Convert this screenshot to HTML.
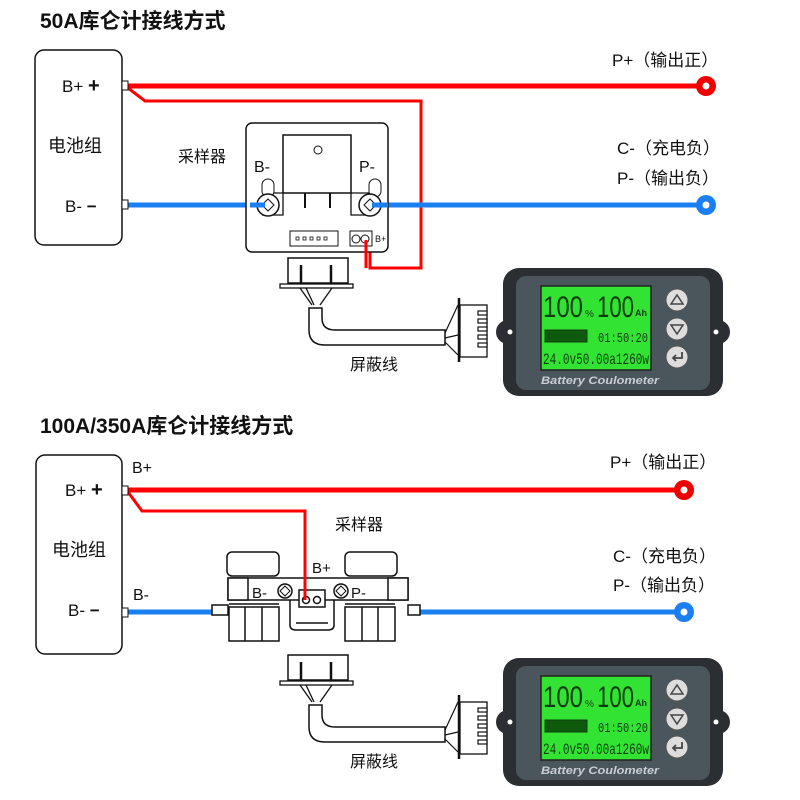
<!DOCTYPE html>
<html><head><meta charset="utf-8"><style>
html,body{margin:0;padding:0;background:#fff;}
svg{display:block;font-family:"Liberation Sans","Noto Sans CJK SC",sans-serif;}
</style></head><body>
<svg width="800" height="800" viewBox="0 0 800 800" xmlns="http://www.w3.org/2000/svg">
<defs>
<g id="meter">
  <rect x="503" y="268" width="220" height="128" rx="16" fill="#2b2f33"/>
  <circle cx="508" cy="332" r="12" fill="#2b2f33"/><circle cx="718" cy="332" r="12" fill="#2b2f33"/>
  <circle cx="510" cy="332" r="2.5" fill="#fff"/><circle cx="716" cy="332" r="2.5" fill="#fff"/>
  <rect x="516" y="276" width="194" height="114" rx="10" fill="#4b555c"/>
  <rect x="541" y="286" width="110" height="84" fill="#33e333" stroke="#222" stroke-width="1.5"/>
  <text x="543" y="317" font-size="30" fill="#0d3d0d" textLength="40" lengthAdjust="spacingAndGlyphs">100</text>
  <text x="585" y="317" font-size="10" fill="#0d3d0d">%</text>
  <text x="597" y="317" font-size="30" fill="#0d3d0d" textLength="37" lengthAdjust="spacingAndGlyphs">100</text>
  <text x="635" y="316" font-size="9" fill="#0d3d0d" font-weight="bold">Ah</text>
  <rect x="545" y="330" width="42" height="12" fill="#0d5a0d" stroke="#0d3d0d"/>
  <text x="598" y="342" font-size="14" fill="#0d3d0d" font-family="Liberation Mono,monospace" textLength="50" lengthAdjust="spacingAndGlyphs">01:50:20</text>
  <text x="543" y="364" font-size="16" fill="#0d3d0d" font-family="Liberation Mono,monospace" textLength="106" lengthAdjust="spacingAndGlyphs">24.0v50.00a1260w</text>
  <circle cx="677" cy="300" r="11" fill="#ddd" stroke="#555"/>
  <circle cx="677" cy="329" r="11" fill="#ddd" stroke="#555"/>
  <circle cx="677" cy="357" r="11" fill="#ddd" stroke="#555"/>
  <path d="M671 304 L677 295 L683 304 Z" fill="none" stroke="#444" stroke-width="1.5"/>
  <path d="M671 325 L677 334 L683 325 Z" fill="none" stroke="#444" stroke-width="1.5"/>
  <path d="M682 352 v6 h-9 m3 -3 l-3 3 l3 3" fill="none" stroke="#444" stroke-width="1.8"/>
  <text x="541" y="384" font-size="11" font-style="italic" font-weight="bold" fill="#c9ced2" textLength="118" lengthAdjust="spacingAndGlyphs">Battery Coulometer</text>
</g>
<g id="cable">
  <rect x="288" y="258" width="60" height="25" fill="#fff" stroke="#111" stroke-width="1.5"/>
  <line x1="301" y1="265" x2="301" y2="285" stroke="#111" stroke-width="2.5"/>
  <line x1="331" y1="265" x2="331" y2="285" stroke="#111" stroke-width="2.5"/>
  <rect x="280" y="284" width="73" height="4" fill="#fff" stroke="#111" stroke-width="1.3"/>
  <path d="M300 288 L312 305 M332 288 L320 305 M306 288 L314 305" stroke="#111" stroke-width="1.3" fill="none"/>
  <path d="M309 308 L309 330 Q309 345 325 345 L445 345 L445 330 L335 330 Q322 330 322 318 L322 308 Z" fill="#fff" stroke="#111" stroke-width="1.5"/>
  <path d="M445 333 L458 305 M445 342 L458 355 M445 338 L458 335" stroke="#111" stroke-width="1.2"/>
  <line x1="459" y1="298" x2="459" y2="362" stroke="#111" stroke-width="2.5"/>
  <rect x="460" y="305" width="27" height="52" fill="#fff" stroke="#111" stroke-width="1.3"/>
  <g stroke="#111" stroke-width="1.2" fill="#fff">
   <rect x="478" y="311" width="9" height="4"/><rect x="478" y="319" width="9" height="4"/><rect x="478" y="327" width="9" height="4"/><rect x="478" y="335" width="9" height="4"/><rect x="478" y="343" width="9" height="4"/>
  </g>
  <text x="350" y="370" font-size="16" fill="#111">屏蔽线</text>
</g>
</defs>

<!-- ===== TOP ===== -->
<text x="40" y="28" font-size="21" font-weight="bold" fill="#111">50A库仑计接线方式</text>
<rect x="35" y="50" width="87" height="195" rx="9" fill="#fff" stroke="#111" stroke-width="1.5"/>
<text x="62" y="92" font-size="17" fill="#111">B+ <tspan font-weight="bold" font-size="20">+</tspan></text>
<text x="48" y="152" font-size="18" fill="#111">电池组</text>
<text x="65" y="212" font-size="17" fill="#111">B-  <tspan font-weight="bold">−</tspan></text>

<path d="M128 86 L700 86" stroke="#f00" stroke-width="5"/>
<path d="M128 88 L145 101 L421 101 L421 268 L370 268 L370 238" fill="none" stroke="#f00" stroke-width="3"/>
<circle cx="706" cy="86" r="10" fill="#e00"/><circle cx="706" cy="86" r="3.5" fill="#fff"/>
<path d="M128 205 L265 205 M372 205 L700 205" stroke="#1a7ff0" stroke-width="5"/>
<circle cx="706" cy="205" r="10" fill="#1a7ff0"/><circle cx="706" cy="205" r="3.5" fill="#fff"/>
<rect x="122" y="81" width="6" height="9" fill="#fff" stroke="#111"/>
<rect x="122" y="200" width="6" height="9" fill="#fff" stroke="#111"/>

<text x="612" y="66" font-size="17" fill="#111">P+（输出正）</text>
<text x="617" y="154" font-size="17" fill="#111">C-（充电负）</text>
<text x="617" y="184" font-size="17" fill="#111">P-（输出负）</text>
<text x="178" y="162" font-size="16" fill="#111">采样器</text>

<!-- shunt 1 -->
<rect x="246" y="123" width="142" height="129" rx="6" fill="#fff" stroke="#111" stroke-width="1.5"/>
<rect x="283" y="135" width="68" height="58" fill="#fff" stroke="#111" stroke-width="1.5"/>
<circle cx="318" cy="150" r="4" fill="#fff" stroke="#111"/>
<path d="M262 193 L283 193 L283 215 L262 215 M372 193 L351 193 L351 215 L372 215" fill="none" stroke="#111" stroke-width="1.3"/>
<line x1="305" y1="193" x2="305" y2="208" stroke="#111" stroke-width="2"/>
<line x1="330" y1="193" x2="330" y2="208" stroke="#111" stroke-width="2"/>
<text x="254" y="172" font-size="16" fill="#111">B-</text>
<text x="359" y="172" font-size="16" fill="#111">P-</text>
<rect x="262" y="179" width="12" height="18" rx="6" fill="#fff" stroke="#111"/>
<rect x="369" y="179" width="12" height="18" rx="6" fill="#fff" stroke="#111"/>
<circle cx="268" cy="205" r="11" fill="#fff" stroke="#111" stroke-width="1.5"/>
<circle cx="370" cy="205" r="11" fill="#fff" stroke="#111" stroke-width="1.5"/>
<path d="M262 205 L268 199 L274 205 L268 211 Z M364 205 L370 199 L376 205 L370 211 Z" fill="#fff" stroke="#111"/>
<path d="M250 205 L265 205 M372 205 L388 205" stroke="#1a7ff0" stroke-width="5"/>
<rect x="290" y="231" width="48" height="15" fill="#fff" stroke="#111"/>
<g fill="#fff" stroke="#111" stroke-width="0.8"><rect x="296" y="237" width="3" height="3"/><rect x="303" y="237" width="3" height="3"/><rect x="310" y="237" width="3" height="3"/><rect x="317" y="237" width="3" height="3"/><rect x="324" y="237" width="3" height="3"/></g>
<rect x="350" y="231" width="22" height="15" fill="#fff" stroke="#111"/>
<circle cx="356" cy="239" r="4" fill="#fff" stroke="#111"/><circle cx="365" cy="239" r="4" fill="#fff" stroke="#111"/>
<text x="375" y="242" font-size="9" fill="#111">B+</text>
<path d="M366 240 L366 268" stroke="#f00" stroke-width="3"/>

<use href="#cable"/>
<use href="#meter"/>

<!-- ===== BOTTOM ===== -->
<text x="40" y="433" font-size="21" font-weight="bold" fill="#111">100A/350A库仑计接线方式</text>
<rect x="36" y="455" width="86" height="199" rx="9" fill="#fff" stroke="#111" stroke-width="1.5"/>
<text x="65" y="496" font-size="17" fill="#111">B+ <tspan font-weight="bold" font-size="20">+</tspan></text>
<text x="52" y="556" font-size="18" fill="#111">电池组</text>
<text x="68" y="616" font-size="17" fill="#111">B-  <tspan font-weight="bold">−</tspan></text>
<text x="132" y="473" font-size="16" fill="#111">B+</text>
<text x="133" y="600" font-size="16" fill="#111">B-</text>

<path d="M128 490 L678 490" stroke="#f00" stroke-width="5"/>
<path d="M128 492 L142 511 L305 511 L305 603" fill="none" stroke="#f00" stroke-width="3"/>
<circle cx="684" cy="490" r="10" fill="#e00"/><circle cx="684" cy="490" r="3.5" fill="#fff"/>
<path d="M128 612 L214 612 M410 612 L678 612" stroke="#1a7ff0" stroke-width="5"/>
<circle cx="684" cy="612" r="10" fill="#1a7ff0"/><circle cx="684" cy="612" r="3.5" fill="#fff"/>
<rect x="122" y="486" width="6" height="9" fill="#fff" stroke="#111"/>
<rect x="122" y="608" width="6" height="9" fill="#fff" stroke="#111"/>

<text x="610" y="468" font-size="17" fill="#111">P+（输出正）</text>
<text x="613" y="562" font-size="17" fill="#111">C-（充电负）</text>
<text x="613" y="591" font-size="17" fill="#111">P-（输出负）</text>
<text x="335" y="530" font-size="16" fill="#111">采样器</text>

<!-- shunt 2 -->
<g stroke="#111" stroke-width="1.5" fill="#fff">
 <path d="M282 598 L290 598 L290 625 Q290 630 296 630 L328 630 Q334 630 334 625 L334 598 L342 598"/>
 <rect x="227" y="552" width="52" height="24" rx="5"/>
 <rect x="345" y="552" width="52" height="24" rx="5"/>
 <rect x="228" y="578" width="180" height="22"/>
 <rect x="228" y="578" width="20" height="22"/><rect x="388" y="578" width="20" height="22"/>
 <rect x="212" y="605" width="16" height="10"/><rect x="408" y="605" width="12" height="10"/>
 <rect x="229" y="607" width="50" height="34"/><rect x="345" y="607" width="50" height="34"/>
 <line x1="245" y1="607" x2="245" y2="641"/><line x1="262" y1="607" x2="262" y2="641"/>
 <line x1="362" y1="607" x2="362" y2="641"/><line x1="378" y1="607" x2="378" y2="641"/>
 <line x1="229" y1="604" x2="279" y2="604"/><line x1="345" y1="604" x2="395" y2="604"/>
 <line x1="296" y1="623" x2="328" y2="623"/>
 <rect x="299" y="590" width="26" height="17"/>
 <circle cx="306" cy="600" r="3.5"/><circle cx="317" cy="600" r="3.5"/>
 <circle cx="285" cy="591" r="7"/><circle cx="341" cy="591" r="7"/>
</g>
<path d="M280 591 L285 586 L290 591 L285 596 Z M336 591 L341 586 L346 591 L341 596 Z" fill="#fff" stroke="#111"/>
<path d="M305 511 L305 600" stroke="#f00" stroke-width="3"/>
<text x="252" y="598" font-size="15" fill="#111">B-</text>
<text x="351" y="598" font-size="15" fill="#111">P-</text>
<text x="312" y="573" font-size="15" fill="#111">B+</text>

<g transform="translate(0,397)"><use href="#cable"/></g>
<g transform="translate(0,390)"><use href="#meter"/></g>
</svg>
</body></html>
